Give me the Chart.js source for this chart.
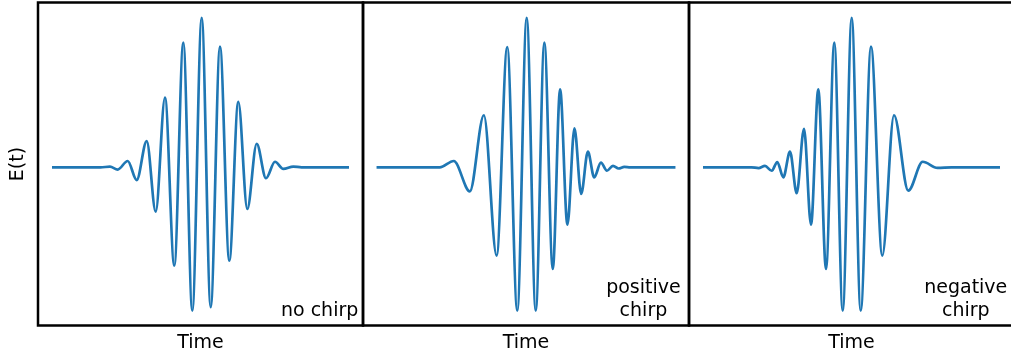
<!DOCTYPE html>
<html>
<head>
<meta charset="utf-8">
<script src="https://cdn.jsdelivr.net/npm/chart.js@4"></script>
<style>
  body { margin: 0; background: #fff; width: 1011px; height: 361px; overflow: hidden; position: relative; }
  canvas { position: absolute; top: 0; }
</style>
</head>
<body>
<canvas id="chart01" width="366" height="361" style="left:0px"></canvas>
<canvas id="chart02" width="332" height="361" style="left:360px"></canvas>
<canvas id="chart03" width="331" height="361" style="left:686px"></canvas>
<script>
// ---------------- data ----------------
// time axis: centre of pulse = 0, field normalised to the main peak

const noChirpTime = [-148.5, -100, -90.5, -82.8, -72.8, -63.8, -53.8, -44.8, -35.5, -26.2, -17.2, -8.2, 1.2,
  10.2, 19.5, 28.8, 37.8, 46.8, 56.2, 65.5, 74.5, 82.8, 92.8, 101, 148.5];
const noChirpField = [0, 0, 0.004, -0.015, 0.042, -0.085, 0.175, -0.296, 0.464, -0.656, 0.831, -0.956, 0.997,
  -0.933, 0.804, -0.623, 0.437, -0.278, 0.157, -0.073, 0.037, -0.011, 0.005, 0, 0];

const posChirpTime = [-149, -86, -72, -56, -42, -29.3, -18.7, -8.7, 0.7, 9.7, 18.3, 26.7, 34,
  41.3, 48.3, 55, 61.7, 68, 74.7, 80.7, 86.7, 92.3, 98, 104, 149];
const posChirpField = [0, 0, 0.042, -0.16, 0.347, -0.589, 0.802, -0.956, 0.997, -0.956, 0.831, -0.678, 0.52,
  -0.383, 0.26, -0.178, 0.104, -0.067, 0.031, -0.023, 0.01, -0.008, 0.003, 0, 0];

const negChirpTime = [-148.5, -100, -93, -86.5, -79.8, -74.2, -68.2, -61.5, -54.8, -47.5, -40.5, -33.2, -25.5,
  -17.2, -8.8, 0.2, 9.2, 19.5, 30.8, 42.5, 56.8, 71.2, 86, 100, 148.5];
const negChirpField = [0, 0, -0.005, 0.009, -0.023, 0.035, -0.067, 0.104, -0.173, 0.257, -0.383, 0.52, -0.678,
  0.831, -0.956, 0.997, -0.956, 0.804, -0.589, 0.347, -0.156, 0.037, -0.004, 0, 0];

const noteNoChirp = ["no chirp"];
const notePosChirp = ["positive", "chirp"];
const noteNegChirp = ["negative", "chirp"];

const xTitle = "Time";
const yTitle = "E(t)";

// ---------------- options ----------------
Chart.defaults.font.family = "'DejaVu Sans', sans-serif";
Chart.defaults.color = "#000";

const FONT = "19px 'DejaVu Sans', sans-serif";

// 테두리 + 안쪽 글씨
function makeFramePlugin(lines, gap) {
  return {
    id: "frameNote",
    afterDatasetsDraw(chart) {
      const { ctx, chartArea } = chart;
      ctx.save();
      ctx.strokeStyle = "#000";
      ctx.lineWidth = 2.5;
      ctx.strokeRect(chartArea.left, chartArea.top, chartArea.right - chartArea.left, chartArea.bottom - chartArea.top);

      ctx.font = FONT;
      ctx.fillStyle = "#000";
      ctx.textAlign = "center";
      ctx.textBaseline = "alphabetic";
      const widest = Math.max(...lines.map((l) => ctx.measureText(l).width));
      const cx = chartArea.right - gap - widest / 2;
      lines.forEach((line, i) => {
        const y = chartArea.bottom - 9.5 - (lines.length - 1 - i) * 23;
        ctx.fillText(line, cx, y);
      });
      ctx.restore();
    },
  };
}

function makePanel(id, times, field, lines, gap, withYTitle) {
  const points = times.map((t, i) => ({ x: t, y: field[i] }));
  const config = {
    type: "line",
    data: {
      datasets: [
        {
          data: points,
          borderColor: "#1f77b4",
          borderWidth: 2.7,
          pointRadius: 0,
          cubicInterpolationMode: "monotone",
          fill: false,
        },
      ],
    },
    options: {
      responsive: false,
      animation: false,
      events: [],
      layout: {
        padding: { left: withYTitle ? 0 : 3, right: 3, top: 2.5, bottom: 0 },
      },
      plugins: {
        legend: { display: false },
        tooltip: { enabled: false },
      },
      scales: {
        x: {
          type: "linear",
          min: -162.5,
          max: 162.5,
          grid: { display: false, drawTicks: false },
          border: { display: false },
          ticks: { display: false },
          title: {
            display: true,
            text: xTitle,
            font: { size: 19 },
            padding: { top: 6.1, bottom: 6.6 },
          },
        },
        y: {
          display: withYTitle,
          min: -1.0547,
          max: 1.0987,
          grid: { display: false, drawTicks: false },
          border: { display: false },
          ticks: { display: false },
          title: {
            display: withYTitle,
            text: yTitle,
            font: { size: 19 },
            padding: { top: 6.9, bottom: 8.3 },
          },
        },
      },
    },
    plugins: [makeFramePlugin(lines, gap)],
  };
  return new Chart(document.getElementById(id), config);
}

makePanel("chart01", noChirpTime, noChirpField, noteNoChirp, 4.7, true);
makePanel("chart02", posChirpTime, posChirpField, notePosChirp, 8.3, false);
makePanel("chart03", negChirpTime, negChirpField, noteNegChirp, 6.7, false);
</script>
</body>
</html>
